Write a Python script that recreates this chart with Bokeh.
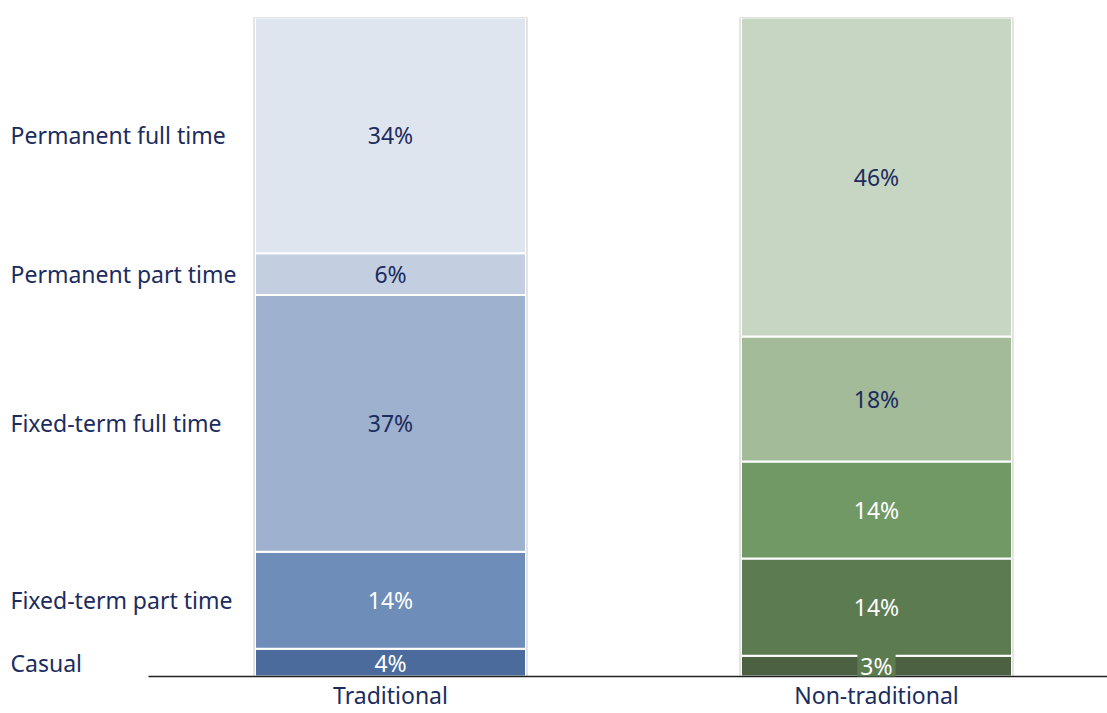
from bokeh.plotting import figure
from bokeh.models import Range1d, FixedTicker, Label
from bokeh.embed import file_html
from bokeh.resources import INLINE
from bokeh.core.properties import value
import numpy as np

# ---- data ----
groups = ["Traditional", "Non-traditional"]
segments = ["Casual", "Fixed-term part time", "Fixed-term full time",
            "Permanent part time", "Permanent full time"]
traditional = [4, 14, 37, 6, 34]
non_traditional = [3, 14, 14, 18, 46]

# ---- styles ----
FONT = value("Noto Sans")
navy = "#1c2c5e"
blue = ["#4a6b9b", "#6e8db8", "#9eb1ce", "#c3cee0", "#dfe5ef"]
green = ["#4b6141", "#5d7b51", "#719966", "#a3bb99", "#c6d6c3"]
palettes = [blue, green]
label_colors = [["white", "white", navy, navy, navy],
                ["white", "white", "white", navy, navy]]
bar_w = 0.5576

p = figure(width=1107, height=713, output_backend="svg", toolbar_location=None,
           x_range=Range1d(-0.8025, 1.4753), y_range=Range1d(0, 95),
           y_axis_location=None,
           min_border_left=0, min_border_right=0, min_border_top=17, min_border_bottom=36)
p.outline_line_color = None
p.xgrid.visible = False
p.ygrid.visible = False
p.background_fill_color = "white"

ax = p.xaxis[0]
ax.ticker = FixedTicker(ticks=list(range(len(groups))))
ax.major_label_overrides = {i: g for i, g in enumerate(groups)}
ax.bounds = (-0.498, 1.4753)
ax.axis_line_color = "#222222"
ax.axis_line_width = 1.5
ax.major_tick_line_color = None
ax.minor_tick_line_color = None
ax.major_tick_out = 0
ax.major_tick_in = 0
ax.minor_tick_out = 0
ax.minor_tick_in = 0
ax.major_label_standoff = 2
ax.major_label_text_font = "Noto Sans"
ax.major_label_text_font_size = "23px"
ax.major_label_text_color = navy

series = [traditional, non_traditional]
for gi, vals in enumerate(series):
    tops = np.cumsum(vals)
    bottoms = tops - np.array(vals)
    xs = [gi] * len(vals)
    p.quad(left=[x - bar_w / 2 for x in xs], right=[x + bar_w / 2 for x in xs],
           bottom=bottoms, top=tops, fill_color=palettes[gi],
           line_color="white", line_width=2)
    p.quad(left=[gi - bar_w / 2 - 0.002], right=[gi + bar_w / 2 + 0.002],
           bottom=[0], top=[tops[-1]], fill_color=None,
           line_color="#c8c8c8", line_width=1)
    mids = (tops + bottoms) / 2
    for si, v in enumerate(vals):
        kw = {}
        if v <= 3:
            kw = dict(background_fill_color=palettes[gi][1], background_fill_alpha=1.0,
                      padding=3)
        p.add_layout(Label(x=gi, y=mids[si], text=f"{v}%", text_align="center",
                           text_baseline="middle", text_font="Noto Sans",
                           text_font_size="23px", text_color=label_colors[gi][si], **kw))
    if gi == 0:
        p.text(x=[p.x_range.start] * len(vals), y=mids, text=segments, x_offset=10,
               text_align="left", text_baseline="middle", text_font=FONT,
               text_font_size="23px", text_color=navy)

open("out.html", "w").write(file_html(p, INLINE))
